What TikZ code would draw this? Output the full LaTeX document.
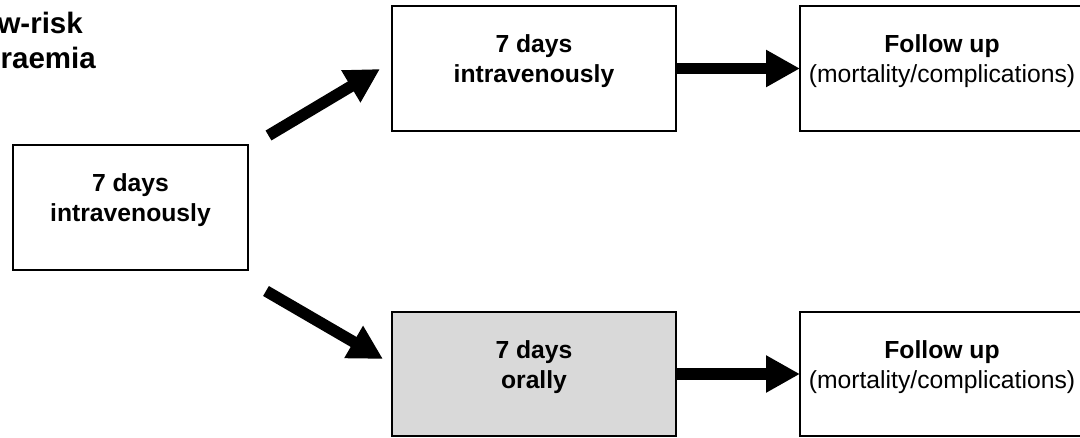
\documentclass[tikz,border=0pt]{standalone}
\usepackage{fontspec}
\setmainfont{Liberation Sans}
\usetikzlibrary{arrows.meta,calc}
\definecolor{boxgray}{RGB}{217,217,217}
\begin{document}
\begin{tikzpicture}[x=1pt,y=-1pt,
  box/.style={draw=black, line width=1.8pt, minimum width=284pt, minimum height=125pt, inner sep=0pt, outer sep=0pt},
  txt/.style={font=\bfseries\fontsize{24.7}{29.5}\selectfont, align=center, inner sep=0pt},
  ttl/.style={anchor=base east, font=\bfseries\fontsize{29.5}{35}\selectfont, inner sep=0pt},
  fat/.style={line width=11.5pt, -{Triangle[length=34pt,width=35pt]}},
]
\useasboundingbox (0,0) rectangle (1080,437);
\clip (0,0) rectangle (1080,437);

\node[box, minimum width=235pt] (b0) at (130.5,207.5) {};
\node[box] (b1) at (534,68.5) {};
\node[box] (b2) at (942,68.5) {};
\node[box, fill=boxgray, minimum height=124pt] (b3) at (534,374) {};
\node[box, minimum height=124pt] (b4) at (942,374) {};

\node[txt] (t0) at ($(b0.north)+(0,55)$) {7 days\\intravenously};
\node[txt] (t1) at ($(b1.north)+(0,55)$) {7 days\\intravenously};
\node[txt] (t2) at ($(b2.north)+(0,55)$) {Follow up\\{\mdseries (mortality/complications)}};
\node[txt] (t3) at ($(b3.north)+(0,55)$) {7 days\\orally};
\node[txt] (t4) at ($(b4.north)+(0,55)$) {Follow up\\{\mdseries (mortality/complications)}};

\node[ttl] (h1) at (83,33) {w-risk};
\node[ttl] (h2) at (96,68.5) {raemia};

\coordinate (s1) at (268.5,135.5);
\coordinate (e1) at (380,69);
\coordinate (s2) at (266,291);
\coordinate (e2) at (383,359);
\draw[fat] (s1) -- (e1);
\draw[fat] (s2) -- (e2);
\draw[fat] (b1.east) -- (b2.west);
\draw[fat] (b3.east) -- (b4.west);
\end{tikzpicture}
\end{document}
